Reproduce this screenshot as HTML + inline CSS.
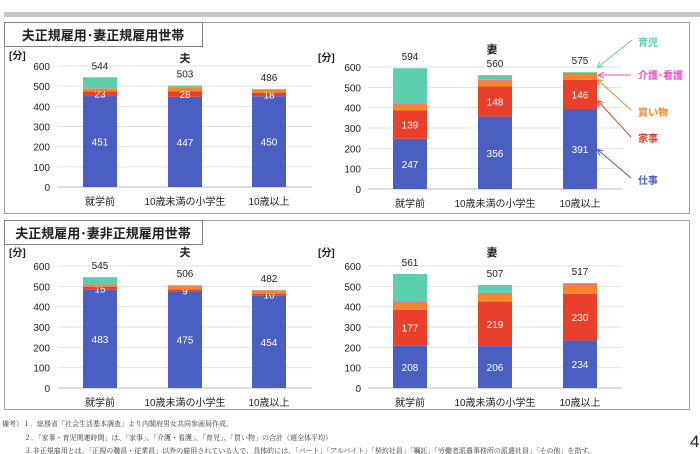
<!DOCTYPE html>
<html><head><meta charset="utf-8">
<style>
body{margin:0;background:#fff;}
svg{display:block;font-family:"Liberation Sans","Noto Sans CJK JP",sans-serif;}
</style></head>
<body>
<svg id="svg" width="700" height="454" viewBox="0 0 700 454">
<defs>
<marker id="m0" markerWidth="6" markerHeight="6" refX="5" refY="3" orient="auto"><path d="M0,0L6,3L0,6" fill="none" stroke="#5ccfae"/></marker>
<marker id="m1" markerWidth="6" markerHeight="6" refX="5" refY="3" orient="auto"><path d="M0,0L6,3L0,6" fill="none" stroke="#e84fc8"/></marker>
<marker id="m2" markerWidth="6" markerHeight="6" refX="5" refY="3" orient="auto"><path d="M0,0L6,3L0,6" fill="none" stroke="#f7862a"/></marker>
<marker id="m3" markerWidth="6" markerHeight="6" refX="5" refY="3" orient="auto"><path d="M0,0L6,3L0,6" fill="none" stroke="#e8402a"/></marker>
<marker id="m4" markerWidth="6" markerHeight="6" refX="5" refY="3" orient="auto"><path d="M0,0L6,3L0,6" fill="none" stroke="#4a5fc1"/></marker>
</defs>
<rect x="4" y="12" width="696" height="5" fill="#c8c8c8"/>
<rect x="4.5" y="22.5" width="685" height="191" fill="none" stroke="#a0a0a0"/>
<rect x="4.5" y="22.5" width="198" height="24" fill="#fff" stroke="#808080"/>
<text x="103" y="40" font-size="13" font-weight="bold" text-anchor="middle" fill="#222">夫正規雇用･妻正規雇用世帯</text>
<rect x="4.5" y="220.5" width="685" height="189" fill="none" stroke="#a0a0a0"/>
<rect x="4.5" y="220.5" width="198" height="24" fill="#fff" stroke="#808080"/>
<text x="103" y="238" font-size="13" font-weight="bold" text-anchor="middle" fill="#222">夫正規雇用･妻非正規雇用世帯</text>
<g id="charts"></g>
<g font-size="10" font-weight="bold">
<line x1="632" y1="40" x2="598" y2="67" stroke="#5ccfae" marker-end="url(#m0)"/>
<text x="638" y="46" fill="#5ccfae">育児</text>
<line x1="631" y1="75" x2="599" y2="75" stroke="#e84fc8" marker-end="url(#m1)"/>
<text x="638" y="79" fill="#e84fc8">介護･看護</text>
<line x1="631" y1="110" x2="598" y2="80" stroke="#f7862a" marker-end="url(#m2)"/>
<text x="638" y="116" fill="#f7862a">買い物</text>
<line x1="631" y1="137" x2="598" y2="101" stroke="#e8402a" marker-end="url(#m3)"/>
<text x="638" y="142" fill="#e8402a">家事</text>
<line x1="631" y1="178" x2="598" y2="150" stroke="#4a5fc1" marker-end="url(#m4)"/>
<text x="638" y="184" fill="#4a5fc1">仕事</text>
</g>
<g font-size="7" fill="#333" font-family="Liberation Serif,'Noto Serif CJK SC',serif">
<text x="2" y="426">備考）１．総務省「社会生活基本調査」より内閣府男女共同参画局作成。</text>
<text x="24" y="440">２．「家事・育児関連時間」は、「家事」、「介護・看護」、「育児」、「買い物」の合計（週全体平均）</text>
<text x="24" y="453">３.非正規雇用とは、「正規の職員・従業員」以外の雇用されている人で、具体的には、「パート」「アルバイト」「契約社員」「嘱託」「労働者派遣事務所の派遣社員」「その他」を指す。</text>
</g>
<text x="690" y="447" font-size="17" fill="#222">4</text>
</svg>
<script>
const categories=["就学前","10歳未満の小学生","10歳以上"];
const yTicks=[0,100,200,300,400,500,600];
const colors=["#4a5fc1","#e8402a","#f7862a","#e84fc8","#5ccfae"];
// series: work, housework, shopping, care, childcare
const h1Work=[451,447,450], h1House=[23,28,18], h1Shop=[14,19,15], h1Care=[1,1,1], h1Child=[55,8,2], h1Total=[544,503,486];
const w1Work=[247,356,391], w1House=[139,148,146], w1Shop=[30,30,30], w1Care=[4,3,4], w1Child=[174,23,4], w1Total=[594,560,575];
const h2Work=[483,475,454], h2House=[15,9,10], h2Shop=[10,17,16], h2Care=[1,1,1], h2Child=[36,4,1], h2Total=[545,506,482];
const w2Work=[208,206,234], w2House=[177,219,230], w2Shop=[35,40,45], w2Care=[5,3,4], w2Child=[136,39,4], w2Total=[561,507,517];

const NS="http://www.w3.org/2000/svg";
const root=document.getElementById('charts');
function mk(tag,attrs,parent,txt){const e=document.createElementNS(NS,tag);for(const k in attrs)e.setAttribute(k,attrs[k]);if(txt!==undefined)e.textContent=txt;parent.appendChild(e);return e;}
function chart(cfg,series,totals){
  const g=mk('g',{},root);
  
  
  const y=v=>cfg.y0-(v/600)*(cfg.y0-cfg.y600);
  const x=i=>cfg.cx[i];
  yTicks.forEach(t=>{
    const l=mk('line',{x1:cfg.gx1,x2:cfg.gx2,y1:y(t),y2:y(t),stroke:t===0?'#bbb':'#e2e2e2'},g);
    
    
    const tx=mk('text',{x:cfg.lx,y:y(t)+4,'font-size':10,'text-anchor':'end',fill:'#222'},g,String(t));
    
    
  });
  const u=mk('text',{x:cfg.ux,y:cfg.uy,'font-size':10,'font-weight':'bold',fill:'#222'},g,'[分]');
  
  
  const tt=mk('text',{x:cfg.tx,y:cfg.ty,'font-size':11,'font-weight':'bold','text-anchor':'middle',fill:'#222'},g,cfg.title);
  
  
  categories.forEach((c,i)=>{
    let acc=0;
    series.forEach((s,k)=>{
      const v=s[i];
      const r=mk('rect',{x:x(i)-17,y:y(acc+v),width:34,height:Math.max(0,y(acc)-y(acc+v)),fill:colors[k]},g);
      
      
      if(k<2){
        const lt=mk('text',{x:x(i),y:(y(acc)+y(acc+v))/2+4,'font-size':10,'text-anchor':'middle',fill:'#fff'},g,String(v));
        
        
      }
      acc+=v;
    });
    const tl=mk('text',{x:x(i),y:y(totals[i])-8,'font-size':10,'text-anchor':'middle',fill:'#222'},g,String(totals[i]));
    
    
    const cl=mk('text',{x:x(i),y:cfg.y0+18,'font-size':10,'text-anchor':'middle',fill:'#222'},g,c);
    
    
  });
}
chart({name:'chart-husband-regular',y0:187,y600:66,cx:[100,185,269],gx1:58,gx2:312,lx:50,ux:9,uy:59,tx:185,ty:62,title:'夫'},[h1Work,h1House,h1Shop,h1Care,h1Child],h1Total);
chart({name:'chart-wife-regular',y0:189,y600:67,cx:[410,495,580],gx1:368,gx2:622,lx:361,ux:318,uy:61,tx:492,ty:53,title:'妻'},[w1Work,w1House,w1Shop,w1Care,w1Child],w1Total);
chart({name:'chart-husband-nonregular',y0:388,y600:266,cx:[100,185,269],gx1:58,gx2:312,lx:50,ux:9,uy:256,tx:185,ty:256,title:'夫'},[h2Work,h2House,h2Shop,h2Care,h2Child],h2Total);
chart({name:'chart-wife-nonregular',y0:388,y600:266,cx:[410,495,580],gx1:368,gx2:622,lx:361,ux:318,uy:256,tx:492,ty:256,title:'妻'},[w2Work,w2House,w2Shop,w2Care,w2Child],w2Total);
</script>
</body></html>
